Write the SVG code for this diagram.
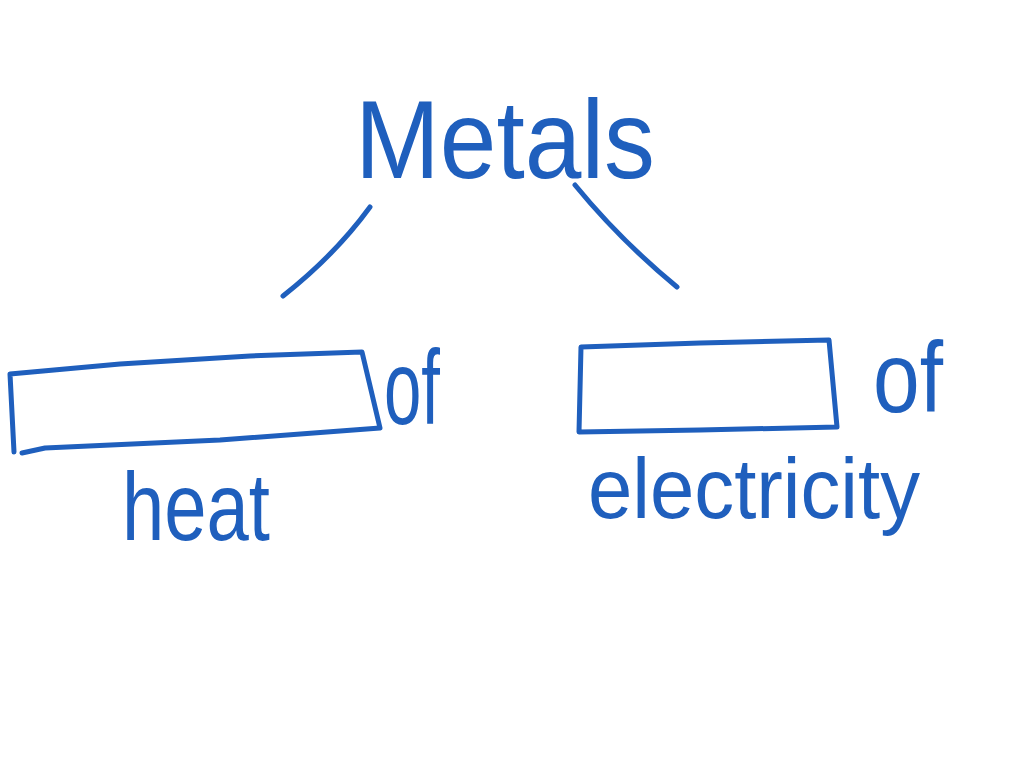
<svg xmlns="http://www.w3.org/2000/svg" width="1024" height="768" viewBox="0 0 1024 768">
<style>
.ink{fill:none;stroke:#1f5fbd;stroke-width:5;stroke-linecap:round;stroke-linejoin:round}
.t{fill:#1f5fbd;font-family:"Liberation Sans","DejaVu Sans",sans-serif}
</style>
<rect width="1024" height="768" fill="#ffffff"/>
<g id="metals">
<text class="t" x="355" y="178" font-size="112" textLength="300" lengthAdjust="spacingAndGlyphs">Metals</text>
</g>
<g id="heat-box">
<path class="ink" d="M10,374 L120,364 L250,356 L362,352 L380,428 L220,440 L45,448 L22,453 M10,374 L14,452"/>
<text class="t" x="122" y="540" font-size="96" textLength="148" lengthAdjust="spacingAndGlyphs">heat</text>
<text class="t" x="384" y="424" font-size="105" textLength="56" lengthAdjust="spacingAndGlyphs">of</text>
</g>
<g id="electricity-box">
<path class="ink" d="M581,347 L700,343 L829,340 L837,427 L700,430 L579,432 Z"/>
<text class="t" x="588" y="518" font-size="86" textLength="332" lengthAdjust="spacingAndGlyphs">electricity</text>
<text class="t" x="873" y="412" font-size="100" textLength="70" lengthAdjust="spacingAndGlyphs">of</text>
</g>
<g id="connectors">
<path class="ink" d="M370,207 Q335,255 283,296"/>
<path class="ink" d="M575,185 Q620,240 677,287"/>
</g>
</svg>
